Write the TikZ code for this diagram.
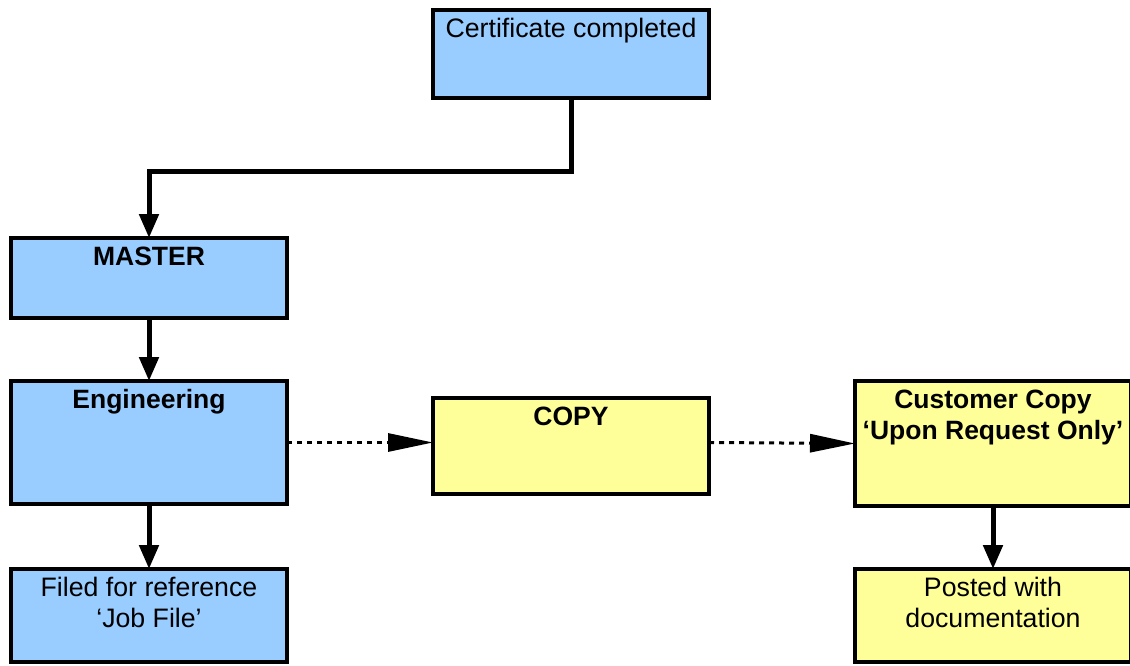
\documentclass[tikz,border=0pt]{standalone}
\usepackage{fontspec}
\setmainfont{Liberation Sans}
\usetikzlibrary{arrows.meta, calc, positioning}
\definecolor{boxblue}{HTML}{99CCFF}
\definecolor{boxyellow}{HTML}{FFFF99}
\tikzset
{%
box/.style={draw, line width=3.5pt, inner sep=0pt, outer sep=0pt, anchor=north west,
	minimum width=276pt, align=center, text height=27.5pt,
	font=\fontsize{26.7}{30.5}\selectfont},
twolines/.style={text height=58pt},
bluebox/.style={box, fill=boxblue},
yellowbox/.style={box, fill=boxyellow},
flow/.style={line width=5pt, line join=miter, -{Triangle[length=24pt,width=19pt]}},
dotflow/.style={line width=3pt, dash pattern=on 5pt off 5pt, -{Triangle[length=45pt,width=18pt]}}
}
\begin{document}
\begin{tikzpicture}[x=1pt, y=-1pt]
		\useasboundingbox (0,0) rectangle (1130,666);
		%left column
		\node[bluebox, text depth=60.5pt] (cert) at (433,10) {Certificate completed};
		\node[bluebox, text depth=52.5pt, font=\fontsize{26.5}{30.5}\selectfont\bfseries] (master) at (11,238) {MASTER};
		\node[bluebox, text depth=95.5pt, font=\fontsize{26.5}{30.5}\selectfont\bfseries] (eng) at (11,381) {Engineering};
		\node[bluebox, twolines, text depth=35pt] (filed) at (11,569) {Filed for reference\\‘Job File’};
		
		%copies
		\node[yellowbox, text depth=68.5pt, font=\fontsize{26.5}{30.5}\selectfont\bfseries] (copy) at (433,398) {COPY};
		\node[yellowbox, twolines, text depth=67pt, font=\fontsize{26.5}{30.5}\selectfont\bfseries] (cust) at (855,381) {Customer Copy\\‘Upon Request Only’};
		\node[yellowbox, twolines, text depth=35pt] (posted) at (855,569) {Posted with\\documentation};
		
		\draw[flow] (cert.south) -- ++(0,74) -| (master.north);
		\draw[flow] (master) -- (eng);
		\draw[flow] (eng) -- (filed);
		\draw[flow] (cust) -- (posted);
		\draw[dotflow] (eng.east) -- (eng.east -| copy.west);
		\draw[dotflow] (copy.east |- eng.east) -- (cust.west);
	\end{tikzpicture}
\end{document}
